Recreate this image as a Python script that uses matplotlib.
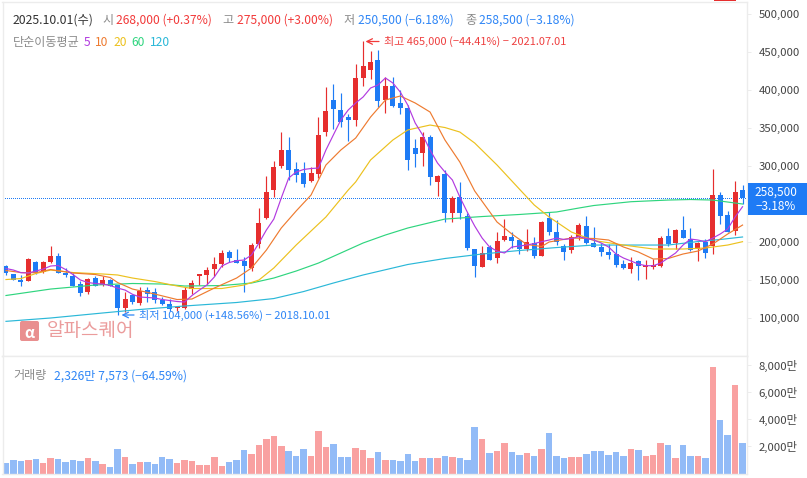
#!/usr/bin/env python3
"""Candle chart with moving averages and a volume panel (values read off the picture)."""

import matplotlib

matplotlib.use("Agg")
import matplotlib.pyplot as plt
from matplotlib.patches import FancyBboxPatch, Rectangle
import numpy as np

plt.rcParams["font.family"] = ["Noto Sans CJK KR", "DejaVu Sans"]

W, H = 807, 478

# --- prices in thousand won, one row per candle ---
OPEN = [168.4, 157.9, 150, 149.1, 173.7, 160.5, 173.7, 181.6, 157.9, 154.8,
        144.3, 134.6, 152.6, 143.4, 150, 143.4, 113.5, 130.2, 120.1, 137.2,
        134.2, 123.7, 118.4, 112.7, 112.7, 138.5, 155.6, 156.6, 164.4, 171,
        186.8, 176.3, 175, 165.8, 197.4, 231.6, 268.4, 300, 321, 296,
        290.8, 280.2, 289.5, 344.7, 386.8, 373.7, 364.4, 360.5, 415.8, 426.3,
        439.5, 386.8, 405.2, 382.9, 376.3, 323.7, 317.1, 338.1, 278.9, 289.5,
        238.1, 259.2, 234.2, 190.8, 167.1, 193.4, 178.9, 202.6, 206.6, 202.6,
        190.8, 198.7, 181.6, 231.6, 213.1, 194.7, 189.5, 206.6, 221, 198.7,
        193.4, 186.8, 184.2, 171, 164.4, 175, 167.1, 167.7, 168.4, 207.9,
        198.7, 215.8, 203.9, 190.8, 200, 194.7, 261.8, 235.5, 214.5, 268]
HIGH = [169.7, 158, 156.6, 178.5, 175, 175, 194.7, 185.5, 165.8, 159.6,
        148.7, 152.6, 155.2, 155.6, 151, 144, 134.6, 131.5, 141.2, 140.4,
        139.1, 128, 124.6, 115.8, 141.2, 150, 158, 166.7, 179.8, 189.4,
        189.4, 190.8, 179.8, 198.3, 244.7, 286.8, 306.6, 344.7, 338.1, 305.2,
        305.2, 298.7, 364.5, 403.9, 407.9, 396, 368.4, 433.8, 465, 451.3,
        452.6, 417.1, 417.1, 400, 380.2, 335.5, 344.7, 340.8, 288.1, 294.7,
        260.5, 278.9, 238.1, 191, 194.7, 196, 213.1, 230.2, 213.1, 203,
        217.1, 206.6, 227, 239.4, 228.9, 197.4, 209.2, 225, 234.2, 219.7,
        198.7, 197.4, 197.4, 176.3, 180.2, 176.3, 176.3, 177.6, 207.9, 218.4,
        217.1, 234.2, 218.4, 200, 203.9, 296, 265.8, 240.8, 280.2, 275]
LOW = [156.6, 150, 142.5, 148.7, 157.9, 159.2, 172.7, 159, 153.9, 142,
       128.9, 132, 142, 142.1, 142, 104, 107.9, 118.4, 117.1, 121.4,
       120.1, 117.1, 109.6, 109.6, 111.4, 131.5, 143, 144.7, 155.6, 167.5,
       173.3, 171.9, 134.6, 162.2, 192.1, 229.9, 259.2, 297.4, 281.6, 278.9,
       272.4, 278.9, 284.2, 339.4, 348.7, 351.3, 332.9, 352.6, 405.2, 414.5,
       377.6, 369.7, 378, 368.4, 294.7, 298.7, 300, 275, 260.5, 226.3,
       226.3, 230.2, 189.4, 153.9, 167, 176, 172.4, 201.3, 192.1, 184.2,
       188.1, 178.9, 181, 209.2, 196, 176.3, 185.5, 202.6, 198, 193,
       181.6, 177.6, 167.1, 164.4, 159.2, 150, 151.3, 164.4, 167.1, 194.7,
       190.8, 205, 188.1, 175, 178.9, 184.2, 223.7, 213, 209.2, 250.5]
CLOSE = [159.6, 150.4, 147.7, 177.6, 159.6, 173.3, 181.6, 159.6, 156.6, 142.5,
         133.3, 150.9, 142.5, 150, 142.5, 113.5, 125, 121, 135.9, 132,
         124.1, 118.4, 111.4, 114.4, 136.8, 146, 157.5, 163.1, 171, 185.1,
         178.9, 172.7, 168.4, 196, 225, 265.8, 298.7, 321, 294.7, 288.1,
         276.3, 290.8, 340.8, 372.3, 375, 357.9, 360.5, 415.8, 431.6, 436.8,
         385.5, 405.2, 378.9, 376.3, 307.9, 315.8, 338.1, 285.9, 286.8, 238.1,
         257.9, 238.1, 192.1, 168.4, 185.5, 176.3, 201.3, 207.9, 201.3, 190.8,
         200, 181.6, 226.3, 213.1, 200, 186.8, 206.6, 222.4, 198.7, 193.4,
         186.8, 182.9, 169.7, 165.8, 172.4, 168.4, 169.7, 169.1, 205.2, 197.4,
         215.8, 205.2, 189.4, 198.7, 185.5, 261.8, 234.2, 213.1, 265.8, 258.5]

# volume in 만
VOLUME = [720, 940, 860, 940, 1010, 720, 1090, 1010, 790, 940,
          860, 1090, 860, 640, 420, 1750, 1160, 640, 790, 790,
          640, 1160, 1010, 720, 940, 860, 570, 570, 1160, 490,
          790, 940, 1680, 1380, 2050, 2490, 2720, 1970, 1600, 1230,
          1750, 1230, 3090, 1900, 2120, 1160, 1160, 1830, 1680, 1090,
          1530, 940, 940, 860, 1380, 860, 1090, 1090, 1090, 1230,
          1160, 1090, 940, 3380, 2490, 1460, 1600, 2200, 1530, 1310,
          1460, 1230, 1750, 2940, 1230, 1090, 1160, 1160, 1380, 1600,
          1600, 1310, 1530, 1230, 1750, 1680, 1230, 1310, 2200, 2050,
          1090, 2050, 1230, 1230, 1090, 7830, 3900, 2790, 6490, 2200]

# --- moving averages, read at the listed candle numbers ---
MA5 = [165.1, 163.1, 159.6, 159.2, 161.8, 164.4, 168.4, 169.1, 163.8, 157.2,
       150, 146.7, 145.4, 144.7, 142.7, 139.4, 136.8, 131.2, 127.6, 127,
       126.3, 124.3, 123, 121.7, 121, 129.6, 136.8, 143.4, 153.9, 168.4,
       173, 175.4, 176.3, 182.9, 198.7, 215.8, 230.2, 257.9, 284.2, 292.1,
       295.4, 296.7, 297.3, 321, 340.8, 360.5, 373.7, 382.9, 390.8, 402.6,
       406.6, 415.8, 409.2, 397.3, 380.2, 356.6, 340.8, 321, 303.9, 292.1,
       281.6, 259.2, 239.4, 221, 205.2, 193.4, 188.1, 185.5, 193.4, 194.7,
       196, 198, 200.4, 202.6, 205.2, 203.3, 204.6, 207, 204.6, 202.6,
       198.7, 193.4, 184.2, 178.9, 175, 171, 168.8, 168.8, 172.3, 178.9,
       185.5, 196, 203.9, 202.6, 200.4, 205.2, 210.5, 217.1, 232.9, 246.4]
MA5_AT = list(range(1, 101))

MA10 = [162.5, 159.8, 159.6, 163.8, 159.2, 157.2, 153.3, 146.7, 138.1, 131.5,
        124.3, 125, 139.4, 152.6, 165.8, 189.4, 218.4, 240.8, 261.8, 301.3,
        321, 336.8, 364.4, 386.8, 392.1, 382.9, 371, 334.2, 305.2, 267.1,
        226.3, 210.5, 196.7, 194.1, 200, 205.2, 204.6, 202.6, 193.4, 186.8,
        177.6, 178.3, 184.2, 188.1, 197.3, 210.5, 222.3]
MA10_AT = [1, 3, 5, 7, 10, 13, 15, 16, 18, 21,
           24, 26, 29, 32, 34, 36, 38, 40, 42, 44,
           46, 48, 50, 52, 54, 56, 58, 60, 62, 64,
           67, 69, 71, 73, 74, 77, 80, 82, 84, 86,
           88, 90, 92, 94, 96, 98, 100]

MA20 = [150.6, 151.9, 158.5, 163.1, 159.8, 157.9, 156.6, 152.6, 148, 142.1,
        138.8, 138.8, 143.4, 150, 165.8, 196, 232.9, 268.4, 279, 307.9,
        334.2, 347.4, 353.9, 350.6, 344.7, 330.2, 301.3, 269.7, 248.7, 232.9,
        213.1, 202, 196, 190.8, 190.8, 192.1, 196, 200.4]
MA20_AT = [1, 3, 5, 7, 10, 14, 16, 18, 21, 24,
           26, 30, 33, 35, 37, 40, 44, 47, 48, 50,
           53, 55, 58, 60, 62, 64, 67, 70, 72, 74,
           77, 80, 84, 88, 92, 95, 98, 100]

MA60 = [129.6, 138.1, 143.4, 145.4, 144.7, 142.1, 142.7, 146, 152.6, 161.8,
        172.3, 185.5, 198.7, 209.2, 218.4, 230.2, 233.5, 236.2, 239.5, 244.7,
        248, 253, 255.2, 255.9, 255.2, 250]
MA60_AT = [1, 7, 13, 18, 22, 25, 30, 34, 37, 40,
           43, 46, 49, 52, 55, 60, 65, 70, 75, 78,
           80, 85, 90, 93, 96, 100]

MA120 = [95.6, 100, 106.6, 111.2, 115.8, 120.4, 125.6, 134.8, 146, 156.6,
         170.4, 178.3, 184.2, 188.8, 192.7, 196, 196, 196, 200.6, 203.3, 206.6]
MA120_AT = [1, 7, 14, 19, 25, 32, 37, 41, 45, 49,
            55, 60, 65, 70, 75, 80, 85, 90, 94, 97, 100]

# 250,000 sits behind the price tag in the reference
PRICE_TICKS = [100, 150, 200, 300, 350, 400, 450, 500]
VOLUME_TICKS = [2000, 4000, 6000, 8000]

RED = "#e62e2e"
BLUE = "#1e7bf5"
RED_SOFT = "#f9a1a1"
BLUE_SOFT = "#92bbf7"
BORDER = "#ececec"
C5, C10, C20, C60, C120 = "#b23be0", "#ee7b30", "#ecc11e", "#2fd57f", "#2bb8d8"


def px_axes(fig, left, top, right, bottom):
    return fig.add_axes([left / W, 1 - bottom / H, (right - left) / W, (bottom - top) / H])


def style_axes(ax, ticks, labels):
    ax.set_xlim(0.53, 100.6)
    ax.set_xticks([])
    ax.yaxis.tick_right()
    ax.set_yticks(ticks)
    ax.set_yticklabels(labels, fontsize=8.2, color="#444444")
    ax.tick_params(axis="y", length=3, width=0.7, color=BORDER, pad=5.5)
    for spine in ax.spines.values():
        spine.set_color(BORDER)
        spine.set_linewidth(1.0)


x = np.arange(1, 101)
o, h, l, c = map(np.array, (OPEN, HIGH, LOW, CLOSE))
up = c >= o

fig = plt.figure(figsize=(W / 100, H / 100), dpi=100, facecolor="white")

# --- price panel: y px = 318 at 100k, 0.76 px per 1k ---
ax = px_axes(fig, 2.5, 1.5, 747, 356)
ax.set_ylim(100 - 38 / 0.76, 100 + 316.5 / 0.76)
style_axes(ax, PRICE_TICKS, [f"{v * 1000:,}" for v in PRICE_TICKS])

# dotted last-price line, no antialiasing or the dots wash out
ax.axhline(CLOSE[-1] - 1, color=BLUE, lw=0.72, ls=(0, (1, 1.5)), antialiased=False, zorder=1)

for vals, at, col in ((MA120, MA120_AT, C120), (MA60, MA60_AT, C60), (MA20, MA20_AT, C20),
                      (MA10, MA10_AT, C10), (MA5, MA5_AT, C5)):
    ax.plot(at, vals, color=col, lw=0.85, zorder=4, solid_joinstyle="round")

body = np.maximum(np.abs(c - o), 2.0)
colors = np.where(up, RED, BLUE)
ax.vlines(x, l, h, colors=colors, lw=0.85, zorder=3)
ax.bar(x, body, bottom=np.minimum(o, c), width=0.67, color=colors, linewidth=0, zorder=3)

# --- volume panel: 0 sits at y px 472.6, 0.01345 px per 만 ---
vax = px_axes(fig, 2.5, 356, 747, 474)
vmin = -1.4 / 0.01345
vax.set_ylim(vmin, vmin + 118 / 0.01345)
style_axes(vax, VOLUME_TICKS, [f"{v:,}만" for v in VOLUME_TICKS])
vol = np.array(VOLUME, dtype=float)
vax.bar(x, vol - vmin, bottom=vmin, width=0.87, color=np.where(up, RED_SOFT, BLUE_SOFT), linewidth=0)

# --- texts and marks placed in picture pixels ---
ov = fig.add_axes([0, 0, 1, 1], facecolor="none")
ov.set_xlim(0, W)
ov.set_ylim(H, 0)
ov.axis("off")


def put(px, py, s, color, size=8.7, **kw):
    ov.text(px, py, s, color=color, fontsize=size, va="center", ha=kw.pop("ha", "left"), **kw)


GRAY = "#8a8a8a"
RED_TEXT = "#f23a3a"
BLUE_TEXT = "#2f86f6"
put(13, 20, "2025.10.01(수)", "#333333", size=8.8)
put(102, 20, "시", GRAY)
put(116, 20, "268,000 (+0.37%)", RED_TEXT)
put(222, 20, "고", GRAY)
put(237, 20, "275,000 (+3.00%)", RED_TEXT)
put(343, 20, "저", GRAY)
put(358, 20, "250,500 (−6.18%)", BLUE_TEXT)
put(465, 20, "종", GRAY)
put(479, 20, "258,500 (−3.18%)", BLUE_TEXT)

put(13, 42, "단순이동평균", GRAY)
put(84, 42, "5", C5)
put(95, 42, "10", C10)
put(113, 42, "20", C20)
put(131, 42, "60", C60)
put(150, 42, "120", C120)

ov.annotate("", xy=(365.5, 41.5), xytext=(379, 41.5),
            arrowprops=dict(arrowstyle="->", color=RED_TEXT, lw=0.9, shrinkA=0, shrinkB=0))
put(384, 41, "최고 465,000 (−44.41%) − 2021.07.01", "#ee4040", size=7.95)
ov.annotate("", xy=(121.5, 315), xytext=(134, 315),
            arrowprops=dict(arrowstyle="->", color=BLUE_TEXT, lw=0.9, shrinkA=0, shrinkB=0))
put(139, 315, "최저 104,000 (+148.56%) − 2018.10.01", BLUE_TEXT, size=8.05)

# watermark
ov.add_patch(FancyBboxPatch((20, 321), 19, 20, boxstyle="round,pad=0,rounding_size=2",
                            fc="#e98f8f", ec="none", zorder=5))
ov.text(29.5, 333, "α", color="white", fontsize=11, ha="center", va="center", fontweight="bold", zorder=6)
put(47, 331, "알파스퀘어", "#eb9c9c", size=13.7, zorder=6)

put(13, 376, "거래량", GRAY)
put(54, 376, "2,326만 7,573 (−64.59%)", BLUE_TEXT)

# current price tag
ov.add_patch(Rectangle((748, 183.3), 59, 31.7, fc=BLUE, ec="none", zorder=5))
put(776, 192, "258,500", "white", size=8.5, ha="center", zorder=6)
put(776, 206, "−3.18%", "white", size=8.5, ha="center", zorder=6)

# tab marker on the top edge
ov.add_patch(Rectangle((714, 0), 22, 1.2, fc=RED, ec="none"))

fig.savefig("out.png", dpi=100)
